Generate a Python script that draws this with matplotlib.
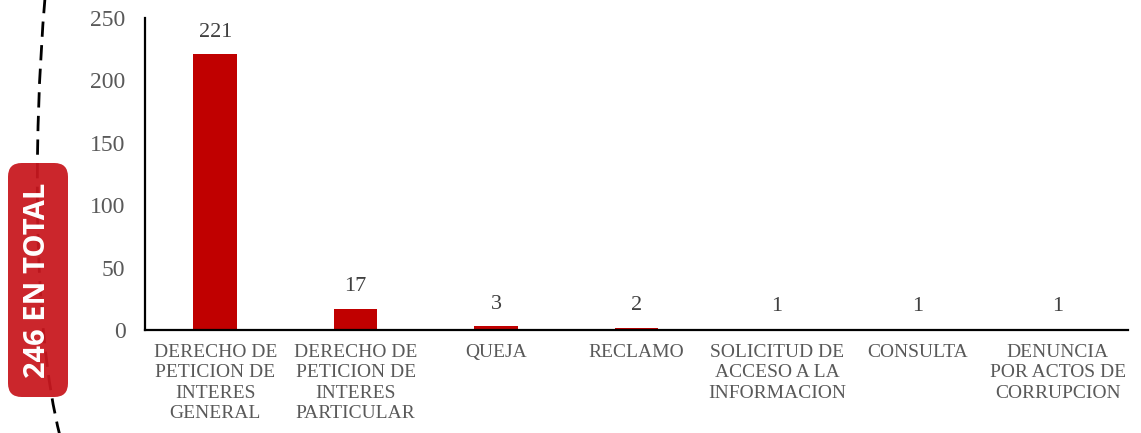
import matplotlib.pyplot as plt
from matplotlib.patches import FancyBboxPatch, PathPatch
from matplotlib.path import Path

categories = [
    'DERECHO DE\nPETICION DE\nINTERES\nGENERAL',
    'DERECHO DE\nPETICION DE\nINTERES\nPARTICULAR',
    'QUEJA',
    'RECLAMO',
    'SOLICITUD DE\nACCESO A LA\nINFORMACION',
    'CONSULTA',
    'DENUNCIA\nPOR ACTOS DE\nCORRUPCION',
]
values = [221, 17, 3, 2, 1, 1, 1]
total_label = '246 EN TOTAL'
yticks = [0, 50, 100, 150, 200, 250]

W, H = 1141, 433
fig = plt.figure(figsize=(W / 100, H / 100), dpi=100)
ax = fig.add_axes([145 / W, 1 - 330 / H, (1128 - 145) / W, (330 - 18) / H])

serif = ['Liberation Serif', 'DejaVu Serif']
grey = '#595959'

x = list(range(len(categories)))
bars = ax.bar(x, values, width=0.31, color='#C00000', zorder=2)
for xi, v in zip(x, values):
    ax.annotate(str(v), (xi, v), xytext=(0, 9), textcoords='offset points',
                ha='center', va='bottom', fontsize=16, color='#404040', family=serif)

ax.set_xlim(-0.5, len(categories) - 0.5)
ax.set_ylim(0, 250)
ax.set_yticks(yticks)
ax.set_xticks(x)
ax.set_xticklabels(categories, fontsize=14, color=grey, family=serif, linespacing=1.27)
for lab in ax.get_yticklabels():
    lab.set_fontsize(17)
    lab.set_color(grey)
    lab.set_family(serif)
ax.tick_params(axis='y', length=0, pad=14)
ax.tick_params(axis='x', length=0, pad=10)
for s in ['top', 'right']:
    ax.spines[s].set_visible(False)
for s in ['left', 'bottom']:
    ax.spines[s].set_linewidth(1.6)
    ax.spines[s].set_color('black')

# dashed curve on the left (figure pixel coords, y flipped)
def fp(px, py):
    return (px / W, 1 - py / H)

verts = [fp(45, -2), fp(33, 140), fp(33, 330), fp(60, 436)]
curve = PathPatch(Path(verts, [Path.MOVETO, Path.CURVE4, Path.CURVE4, Path.CURVE4]),
                  transform=fig.transFigure, fill=False, edgecolor='black',
                  linewidth=2, linestyle=(0, (5.5, 3)), zorder=1)
fig.patches.append(curve)

bx0, by0 = fp(8, 397)
bx1, by1 = fp(68, 163)
box = FancyBboxPatch((bx0, by0), bx1 - bx0, by1 - by0,
                     boxstyle='round,pad=0,rounding_size=0.012',
                     transform=fig.transFigure, facecolor='#C8181F',
                     edgecolor='none', alpha=0.94, zorder=2,
                     mutation_aspect=W / H)
fig.patches.append(box)
fig.text((bx0 + bx1) / 2, (by0 + by1) / 2, total_label, rotation=90,
         ha='center', va='center', color='white', fontsize=21,
         fontweight='bold', family=['Open Sans', 'DejaVu Sans'], zorder=3)

fig.savefig('out.png', dpi=100)
